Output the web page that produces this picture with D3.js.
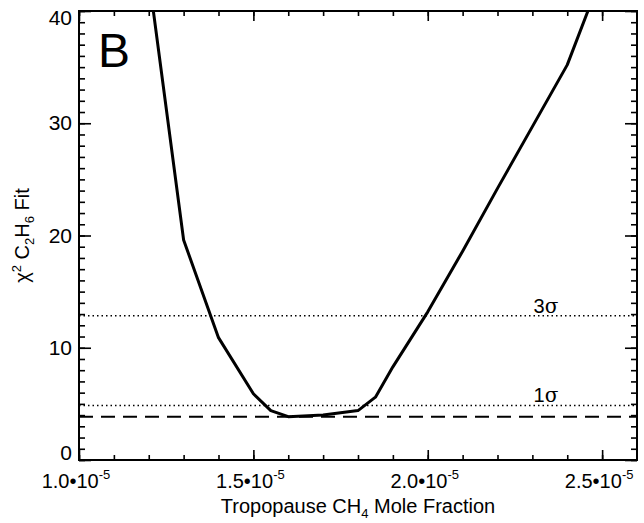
<!DOCTYPE html>
<html>
<head>
<meta charset="utf-8">
<script src="https://cdn.jsdelivr.net/npm/d3@7"></script>
<style>
  html, body { margin: 0; padding: 0; background: #fff; }
  svg { display: block; font-family: "Liberation Sans", Arial, Helvetica, sans-serif; }
</style>
</head>
<body>
<svg id="chart" width="644" height="523"></svg>
<script>
// Tropopause CH4 mole fraction (units of 1e-5) and chi-square of the C2H6 fit
const ch4 = [1.2, 1.3, 1.4, 1.5, 1.55, 1.6, 1.7, 1.8, 1.85, 1.9, 2.0, 2.1, 2.2, 2.3, 2.4, 2.5];
const chi2 = [43.1, 19.6, 10.9, 5.9, 4.4, 3.86, 4.0, 4.4, 5.6, 8.3, 13.2, 18.6, 24.2, 29.7, 35.2, 43.3];

// Reference levels: minimum chi-square and the 1 and 3 sigma thresholds
const chiMin = 3.86;
const sigmaLevels = [{ label: "1", value: chiMin + 1 }, { label: "3", value: chiMin + 9 }];

const xMajorTicks = [1.0, 1.5, 2.0, 2.5];
const yMajorTicks = [0, 10, 20, 30, 40];

const svg = d3.select("#chart");
const pLeft = 79, pRight = 637, pTop = 11, pBottom = 460;

const x = d3.scaleLinear().domain([1.0, 2.6]).range([pLeft, pRight]);
const y = d3.scaleLinear().domain([0, 40]).range([pBottom, pTop]);

// clip for the curve
svg.append("defs").append("clipPath").attr("id", "plotClip")
  .append("rect").attr("x", pLeft).attr("y", pTop).attr("width", pRight - pLeft).attr("height", pBottom - pTop);

const xMinor = d3.range(10, 26).map(d => d / 10);
const yMinor = d3.range(0, 41);

// Inward ticks on all four sides
function ticks(axisGen, tr, vals, len) {
  svg.append("g").attr("transform", tr)
    .call(axisGen.tickValues(vals).tickSize(len).tickFormat(""))
    .call(g => g.select(".domain").remove())
    .call(g => g.selectAll("line").attr("stroke", "#000").attr("stroke-width", 1.6));
}
ticks(d3.axisTop(x), `translate(0,${pBottom})`, xMinor, 5);
ticks(d3.axisTop(x), `translate(0,${pBottom})`, xMajorTicks, 10);
ticks(d3.axisBottom(x), `translate(0,${pTop})`, xMinor, 5);
ticks(d3.axisBottom(x), `translate(0,${pTop})`, xMajorTicks, 10);
ticks(d3.axisRight(y), `translate(${pLeft},0)`, yMinor, 6);
ticks(d3.axisRight(y), `translate(${pLeft},0)`, yMajorTicks, 12);
ticks(d3.axisLeft(y), `translate(${pRight},0)`, yMinor, 6);
ticks(d3.axisLeft(y), `translate(${pRight},0)`, yMajorTicks, 12);

// frame
svg.append("rect").attr("x", pLeft).attr("y", pTop).attr("width", pRight - pLeft).attr("height", pBottom - pTop)
  .attr("fill", "none").attr("stroke", "#000").attr("stroke-width", 2);

// x tick labels: a.b•10^-5
xMajorTicks.forEach(v => {
  const t = svg.append("text").attr("x", x(v) - 3).attr("y", pBottom + 28)
    .attr("text-anchor", "middle").attr("font-size", 20).attr("fill", "#000");
  t.append("tspan").text(v.toFixed(1) + "\u202210");
  t.append("tspan").attr("dy", -9).attr("font-size", 13).text("-5");
});

// y tick labels
yMajorTicks.forEach(v => {
  let dy = 7;
  if (v === 40) dy = 14;
  if (v === 0) dy = 0;
  svg.append("text").attr("x", pLeft - 7).attr("y", y(v) + dy)
    .attr("text-anchor", "end").attr("font-size", 21).attr("fill", "#000").text(v);
});

// axis titles
const xt = svg.append("text").attr("x", (pLeft + pRight) / 2).attr("y", 513)
  .attr("text-anchor", "middle").attr("font-size", 20).attr("fill", "#000");
xt.append("tspan").text("Tropopause CH");
xt.append("tspan").attr("dy", 5).attr("font-size", 13).text("4");
xt.append("tspan").attr("dy", -5).text(" Mole Fraction");

const yt = svg.append("text").attr("transform", `translate(29,${(pTop + pBottom) / 2}) rotate(-90)`)
  .attr("text-anchor", "middle").attr("font-size", 20).attr("fill", "#000");
yt.append("tspan").text("\u03c7");
yt.append("tspan").attr("dy", -8).attr("font-size", 13).text("2");
yt.append("tspan").attr("dy", 8).text(" C");
yt.append("tspan").attr("dy", 5).attr("font-size", 13).text("2");
yt.append("tspan").attr("dy", -5).text("H");
yt.append("tspan").attr("dy", 5).attr("font-size", 13).text("6");
yt.append("tspan").attr("dy", -5).text(" Fit");

// panel letter
svg.append("text").attr("x", 98).attr("y", 67).attr("font-size", 48).attr("fill", "#000").text("B");

// sigma levels (dotted) and the minimum (dashed)
sigmaLevels.forEach(s => {
  svg.append("line").attr("x1", pLeft).attr("x2", pRight).attr("y1", y(s.value)).attr("y2", y(s.value))
    .attr("stroke", "#000").attr("stroke-width", 1.5).attr("stroke-dasharray", "1.5,3");
  const t = svg.append("text").attr("x", 546).attr("y", y(s.value) - 3)
    .attr("text-anchor", "middle").attr("font-size", 20).attr("fill", "#000");
  t.append("tspan").text(s.label);
  t.append("tspan").attr("font-family", "'DejaVu Serif', 'Liberation Serif', serif").text("\u03c3");
});
svg.append("line").attr("x1", pLeft).attr("x2", pRight).attr("y1", y(chiMin)).attr("y2", y(chiMin))
  .attr("stroke", "#000").attr("stroke-width", 2).attr("stroke-dasharray", "14,8");

// chi-square curve
const line = d3.line().x((d, i) => x(ch4[i])).y(d => y(d));
svg.append("path").datum(chi2).attr("clip-path", "url(#plotClip)")
  .attr("d", line).attr("fill", "none").attr("stroke", "#000").attr("stroke-width", 3)
  .attr("stroke-linejoin", "round");
</script>
</body>
</html>
